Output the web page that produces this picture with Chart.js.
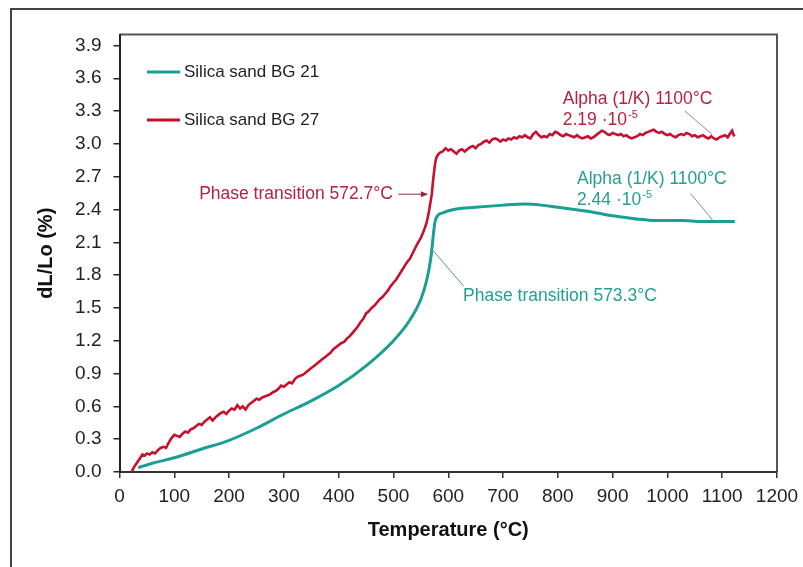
<!DOCTYPE html>
<html>
<head>
<meta charset="utf-8">
<script src="https://cdn.jsdelivr.net/npm/chart.js@4.4.1/dist/chart.umd.min.js"></script>
<style>
  html, body { margin: 0; padding: 0; background: #fff; }
  #wrap { width: 803px; height: 567px; }
</style>
</head>
<body>
<div id="wrap"><canvas id="dilChart" width="803" height="567"></canvas></div>
<script>
/* =========================
   DATA – DILATOMETRY CURVES
========================= */
const seriesNames = ["Silica sand BG 21", "Silica sand BG 27"];

const xTicks = [0, 100, 200, 300, 400, 500, 600, 700, 800, 900, 1000, 1100, 1200];
const yTicks = [0, 0.3, 0.6, 0.9, 1.2, 1.5, 1.8, 2.1, 2.4, 2.7, 3.0, 3.3, 3.6, 3.9];

// BG 21 – smooth curve
const bg21Temp = [34, 60, 100, 150, 200, 250, 300, 350, 400, 450, 500, 530, 550, 561, 568, 571, 573, 576, 580, 590,
  610, 650, 700, 740, 770, 800, 830, 860, 890, 920, 950, 975, 1000, 1030, 1060, 1090, 1123];
const bg21Val = [0.04, 0.08, 0.13, 0.21, 0.29, 0.40, 0.53, 0.65, 0.79, 0.97, 1.20, 1.39, 1.58, 1.76, 1.95, 2.08, 2.18, 2.29, 2.34, 2.37,
  2.40, 2.42, 2.44, 2.45, 2.44, 2.42, 2.40, 2.38, 2.35, 2.33, 2.31, 2.30, 2.30, 2.30, 2.29, 2.29, 2.29];

// BG 27 – noisy curve
const bg27Temp = [22, 26, 30, 34, 38, 42, 46, 50, 55, 60, 65, 70, 75, 80, 85, 90, 95, 100, 105, 110,
  115, 120, 125, 130, 135, 140, 145, 150, 155, 160, 165, 170, 175, 180, 185, 190, 195, 200, 205, 210,
  215, 220, 225, 230, 235, 240, 245, 250, 255, 260, 265, 270, 275, 280, 285, 290, 295, 300, 305, 310,
  315, 320, 325, 330, 335, 340, 345, 350, 355, 360, 365, 370, 375, 380, 385, 390, 395, 400, 405, 410,
  415, 420, 425, 430, 435, 440, 445, 450, 455, 460, 465, 470, 475, 480, 485, 490, 495, 500, 505, 510,
  515, 520, 525, 530, 535, 540, 545, 550, 555, 560, 564, 567, 570, 572, 574, 576, 578, 581, 585, 590,
  595, 600, 605, 610, 615, 620, 625, 630, 635, 640, 645, 650, 655, 660, 665, 670, 675, 680, 685, 690,
  695, 700, 705, 710, 715, 720, 725, 730, 735, 740, 745, 750, 755, 760, 765, 770, 775, 780, 785, 790,
  795, 800, 805, 810, 815, 820, 825, 830, 835, 840, 845, 850, 855, 860, 865, 870, 875, 880, 885, 890,
  895, 900, 905, 910, 915, 920, 925, 930, 935, 940, 945, 950, 955, 960, 965, 970, 975, 980, 985, 990,
  995, 1000, 1005, 1010, 1015, 1020, 1025, 1030, 1035, 1040, 1045, 1050, 1055, 1060, 1065, 1070, 1075, 1080, 1085, 1090,
  1095, 1100, 1105, 1110, 1115, 1118, 1121, 1123];
const bg27Val = [0.00, 0.04, 0.07, 0.10, 0.13, 0.16, 0.15, 0.17, 0.16, 0.18, 0.17, 0.20, 0.22, 0.23, 0.22, 0.27, 0.31, 0.34, 0.33, 0.32,
  0.35, 0.37, 0.36, 0.39, 0.40, 0.42, 0.44, 0.43, 0.46, 0.48, 0.50, 0.47, 0.50, 0.52, 0.54, 0.55, 0.53, 0.56, 0.58, 0.57,
  0.61, 0.58, 0.60, 0.57, 0.61, 0.63, 0.65, 0.67, 0.66, 0.68, 0.69, 0.70, 0.71, 0.73, 0.74, 0.76, 0.79, 0.78, 0.80, 0.82,
  0.81, 0.85, 0.87, 0.88, 0.89, 0.91, 0.93, 0.95, 0.97, 0.99, 1.01, 1.03, 1.05, 1.07, 1.09, 1.12, 1.14, 1.16, 1.18, 1.19,
  1.22, 1.24, 1.27, 1.30, 1.33, 1.37, 1.40, 1.45, 1.47, 1.50, 1.52, 1.55, 1.58, 1.60, 1.63, 1.66, 1.70, 1.73, 1.76, 1.80,
  1.84, 1.88, 1.92, 1.95, 2.00, 2.05, 2.10, 2.14, 2.20, 2.27, 2.36, 2.45, 2.54, 2.65, 2.74, 2.82, 2.87, 2.90, 2.92, 2.93,
  2.96, 2.94, 2.95, 2.93, 2.91, 2.94, 2.95, 2.93, 2.95, 2.97, 2.98, 2.96, 2.99, 3.00, 3.02, 3.03, 3.01, 3.04, 3.05, 3.04,
  3.02, 3.04, 3.03, 3.05, 3.04, 3.06, 3.05, 3.07, 3.06, 3.08, 3.06, 3.05, 3.09, 3.11, 3.08, 3.06, 3.07, 3.06, 3.09, 3.08,
  3.11, 3.10, 3.08, 3.07, 3.09, 3.08, 3.07, 3.06, 3.08, 3.06, 3.05, 3.06, 3.07, 3.05, 3.06, 3.08, 3.10, 3.12, 3.11, 3.09,
  3.08, 3.10, 3.09, 3.08, 3.09, 3.07, 3.08, 3.06, 3.05, 3.06, 3.07, 3.09, 3.08, 3.10, 3.11, 3.12, 3.13, 3.11, 3.10, 3.11,
  3.09, 3.08, 3.09, 3.07, 3.06, 3.08, 3.09, 3.08, 3.10, 3.09, 3.07, 3.08, 3.06, 3.07, 3.08, 3.06, 3.05, 3.07, 3.05, 3.04,
  3.06, 3.07, 3.08, 3.06, 3.10, 3.12, 3.08, 3.07];

const TEAL = "#1b9e93";
const RED = "#c8102e";
const TEAL_TXT = "#22a096";
const RED_TXT = "#b5223f";
const FONT = "'Liberation Sans', Arial, sans-serif";

/* =========================
   PLUGINS – KHUNG, CHÚ GIẢI, GHI CHÚ
========================= */
const framePlugin = {
  id: "frame",
  beforeDraw(chart) {
    const { ctx, chartArea: a } = chart;
    ctx.save();
    ctx.fillStyle = "#fff";
    ctx.fillRect(0, 0, chart.width, chart.height);
    ctx.strokeStyle = "#444";
    ctx.lineWidth = 2;
    ctx.strokeRect(11, 9, 820, 600);
    // top + right border of plot box
    ctx.strokeStyle = "#555";
    ctx.beginPath();
    ctx.moveTo(a.left, a.top);
    ctx.lineTo(a.right, a.top);
    ctx.lineTo(a.right, a.bottom);
    ctx.stroke();
    ctx.restore();
  }
};

const legendPlugin = {
  id: "insideLegend",
  afterDatasetsDraw(chart) {
    const { ctx } = chart;
    ctx.save();
    chart.data.datasets.forEach((ds, i) => {
      const y = 72 + i * 48;
      ctx.strokeStyle = ds.borderColor;
      ctx.lineWidth = 3;
      ctx.beginPath();
      ctx.moveTo(147, y);
      ctx.lineTo(180, y);
      ctx.stroke();
      ctx.fillStyle = "#222";
      ctx.font = "17px " + FONT;
      ctx.textBaseline = "middle";
      ctx.textAlign = "left";
      ctx.fillText(ds.label, 184, y);
    });
    ctx.restore();
  }
};

const notes = [
  { lines: ["Alpha (1/K) 1100°C", "2.19 ·10"], sup: "-5", x: 809, y: 3.41, color: RED_TXT, align: "left" },
  { lines: ["Alpha (1/K) 1100°C", "2.44 ·10"], sup: "-5", x: 835, y: 2.676, color: TEAL_TXT, align: "left" },
  { lines: ["Phase transition 572.7°C"], x: 499, y: 2.54, color: RED_TXT, align: "right" },
  { lines: ["Phase transition 573.3°C"], x: 627, y: 1.607, color: TEAL_TXT, align: "left" }
];
const leaders = [
  { from: [1032, 3.30], to: [1081, 3.09], color: "#8a8a8a", arrow: false },
  { from: [1042, 2.548], to: [1084, 2.294], color: "#8a8a8a", arrow: false },
  { from: [509, 2.54], to: [561, 2.54], color: "#8a2a3a", arrow: true },
  { from: [573, 2.02], to: [628, 1.70], color: "#5f8f8a", arrow: false }
];

const notePlugin = {
  id: "notes",
  afterDatasetsDraw(chart) {
    const { ctx, scales: { x, y } } = chart;
    ctx.save();
    leaders.forEach((l) => {
      const x1 = x.getPixelForValue(l.from[0]), y1 = y.getPixelForValue(l.from[1]);
      const x2 = x.getPixelForValue(l.to[0]), y2 = y.getPixelForValue(l.to[1]);
      ctx.strokeStyle = l.color;
      ctx.lineWidth = 1;
      ctx.beginPath();
      ctx.moveTo(x1, y1);
      ctx.lineTo(x2, y2);
      ctx.stroke();
      if (l.arrow) {
        ctx.fillStyle = l.color;
        ctx.beginPath();
        ctx.moveTo(x2 + 1, y2);
        ctx.lineTo(x2 - 6, y2 - 3);
        ctx.lineTo(x2 - 6, y2 + 3);
        ctx.closePath();
        ctx.fill();
      }
    });
    notes.forEach((n) => {
      const px = x.getPixelForValue(n.x);
      let py = y.getPixelForValue(n.y);
      ctx.fillStyle = n.color;
      ctx.font = "17.5px " + FONT;
      ctx.textBaseline = "middle";
      ctx.textAlign = n.align;
      n.lines.forEach((t, i) => {
        const ly = py + i * 21;
        ctx.fillText(t, px, ly);
        if (n.sup && i === n.lines.length - 1) {
          const w = ctx.measureText(t).width;
          ctx.font = "11px " + FONT;
          ctx.textAlign = "left";
          ctx.fillText(n.sup, px + w + 1, ly - 5);
          ctx.font = "17.5px " + FONT;
          ctx.textAlign = n.align;
        }
      });
    });
    ctx.restore();
  }
};

/* =========================
   LINE CHART
========================= */
const ctx = document.getElementById("dilChart");

if (ctx) {
  new Chart(ctx, {
    type: "line",
    data: {
      datasets: [
        {
          label: seriesNames[0],
          data: bg21Temp.map((t, i) => ({ x: t, y: bg21Val[i] })),
          borderColor: TEAL,
          borderWidth: 3,
          pointRadius: 0,
          cubicInterpolationMode: "monotone",
          fill: false
        },
        {
          label: seriesNames[1],
          data: bg27Temp.map((t, i) => ({ x: t, y: bg27Val[i] })),
          borderColor: RED,
          borderWidth: 2.6,
          pointRadius: 0,
          tension: 0,
          fill: false
        }
      ]
    },
    options: {
      responsive: false,
      animation: false,
      layout: { padding: { top: 34.5, right: 26, left: 0, bottom: 0 } },
      plugins: {
        legend: { display: false },
        tooltip: { enabled: false }
      },
      scales: {
        x: {
          type: "linear",
          min: 0,
          max: 1200,
          afterBuildTicks: (s) => { s.ticks = xTicks.map((v) => ({ value: v })); },
          afterFit: (s) => { s.height = 95; s.paddingLeft = 0; s.paddingRight = 0; },
          grid: { drawOnChartArea: false, drawTicks: true, tickLength: 6, color: "#333", lineWidth: 1.5 },
          border: { display: true, color: "#333", width: 2 },
          ticks: {
            color: "#222",
            padding: 7,
            maxRotation: 0,
            font: { family: FONT, size: 19 },
            callback: (v) => String(v)
          },
          title: {
            display: true,
            text: "Temperature (°C)",
            color: "#111",
            font: { family: FONT, size: 20, weight: "bold" },
            padding: { top: 0, bottom: 25 }
          }
        },
        y: {
          min: 0,
          max: 4.0,
          afterBuildTicks: (s) => { s.ticks = yTicks.map((v) => ({ value: v })); },
          afterFit: (s) => { s.width = 119.5; s.paddingTop = 0; s.paddingBottom = 0; },
          grid: { drawOnChartArea: false, drawTicks: true, tickLength: 6, color: "#222", lineWidth: 1.5 },
          border: { display: true, color: "#222", width: 2 },
          ticks: {
            color: "#222",
            padding: 12,
            font: { family: FONT, size: 19 },
            callback: (v) => Number(v).toFixed(1)
          },
          title: {
            display: true,
            text: "dL/Lo (%)",
            color: "#111",
            font: { family: FONT, size: 20, weight: "bold" },
            padding: { top: 34, bottom: 0 }
          }
        }
      }
    },
    plugins: [framePlugin, legendPlugin, notePlugin]
  });
}
</script>
</body>
</html>
